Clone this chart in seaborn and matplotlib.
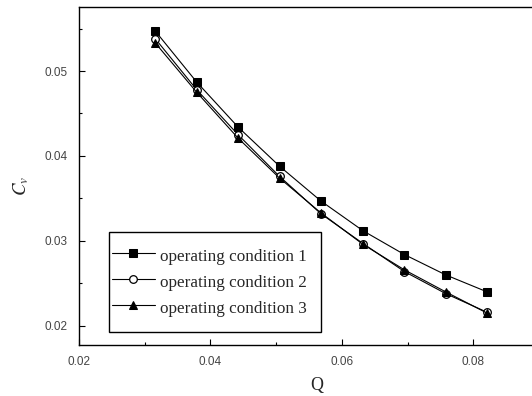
import matplotlib
matplotlib.use("Agg")
import matplotlib.pyplot as plt
from matplotlib.ticker import MultipleLocator
from matplotlib.patches import Rectangle
import seaborn as sns
import pandas as pd

# data
q = [0.0316, 0.0379, 0.0442, 0.0505, 0.0568, 0.0632, 0.0695, 0.0758, 0.0821]
cond1 = [0.0547, 0.0487, 0.0434, 0.0388, 0.0347, 0.0312, 0.0284, 0.0260, 0.0240]
cond2 = [0.0538, 0.0478, 0.0425, 0.0376, 0.0332, 0.0297, 0.0264, 0.0238, 0.0216]
cond3 = [0.0533, 0.0475, 0.0421, 0.0374, 0.0333, 0.0296, 0.0266, 0.0240, 0.0215]
labels = ["operating condition 1", "operating condition 2", "operating condition 3"]
x_ticks = [0.02, 0.04, 0.06, 0.08]
y_ticks = [0.02, 0.03, 0.04, 0.05]

sns.set_style("white")
plt.rcParams["mathtext.fontset"] = "stix"

fig = plt.figure(figsize=(5.32, 3.96), dpi=100)
ax = fig.add_axes([0.1485, 0.1288, 0.8515, 0.8535])

styles = [
    dict(marker="s", markerfacecolor="black", markeredgecolor="black", markersize=5.5),
    dict(marker="o", markerfacecolor="white", markeredgecolor="black", markersize=5.5, markeredgewidth=0.9),
    dict(marker="^", markerfacecolor="black", markeredgecolor="black", markersize=6),
]
for vals, lab, st in zip([cond1, cond2, cond3], labels, styles):
    df = pd.DataFrame({"Q": q, "Cv": vals})
    sns.lineplot(data=df, x="Q", y="Cv", ax=ax, color="black", linewidth=0.8,
                 label=lab, **st)

ax.set_xlim(0.02, 0.0889)
ax.set_ylim(0.01776, 0.05753)
ax.set_xticks(x_ticks)
ax.set_yticks(y_ticks)
ax.set_xticklabels([f"{v:.2f}" for v in x_ticks])
ax.set_yticklabels([f"{v:.2f}" for v in y_ticks])
ax.xaxis.set_minor_locator(MultipleLocator(0.01))
ax.yaxis.set_minor_locator(MultipleLocator(0.005))
ax.tick_params(which="major", direction="in", length=4, width=0.8, color="black",
               labelsize=8.5, labelcolor="#444444", pad=8,
               bottom=True, left=True, top=False, right=False)
ax.tick_params(which="minor", direction="in", length=2.5, width=0.8, color="black",
               bottom=True, left=True, top=False, right=False)
for lbl in ax.get_xticklabels() + ax.get_yticklabels():
    lbl.set_fontfamily("Liberation Sans")

for side in ["left", "bottom", "top"]:
    ax.spines[side].set_visible(True)
    ax.spines[side].set_color("black")
    ax.spines[side].set_linewidth(1.0)
ax.spines["right"].set_visible(False)

ax.set_xlabel("Q", fontfamily="Liberation Serif", fontsize=13, labelpad=6)
ax.xaxis.set_label_coords(0.525, -0.095)
ax.set_ylabel(r"$C_v$", fontsize=13.5, labelpad=14)
ax.yaxis.set_label_coords(-0.105, 0.47)

# legend box frame
box = Rectangle((0.0662, 0.0385), 0.468, 0.2955, transform=ax.transAxes,
                facecolor="white", edgecolor="black", linewidth=1.0, zorder=4.9)
ax.add_patch(box)
leg = ax.legend(loc="center left", bbox_to_anchor=(0.073, 0.189), frameon=False,
                prop={"family": "Liberation Serif", "size": 12.3},
                handlelength=2.5, handleheight=1.5, handletextpad=0.3,
                labelspacing=0.3, borderpad=0.0, borderaxespad=0)
leg.set_zorder(5)

fig.savefig("out.png", dpi=100)
